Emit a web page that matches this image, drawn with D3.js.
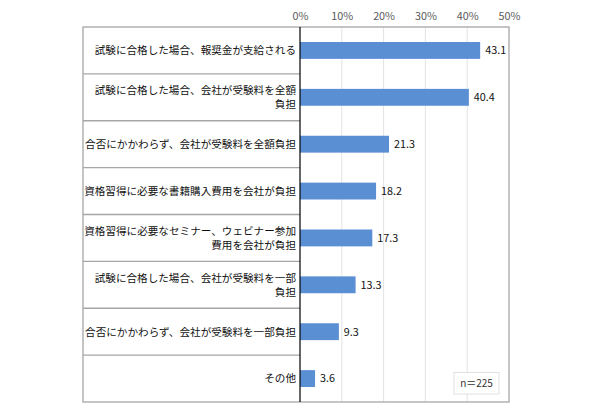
<!DOCTYPE html>
<html><head><meta charset="utf-8">
<script src="https://cdn.jsdelivr.net/npm/d3@7"></script>
<style>body{margin:0;background:#fff}</style>
</head><body>
<svg id="c" width="590" height="417"></svg>
<script>
const categories = [
  ["試験に合格した場合、報奨金が支給される"],
  ["試験に合格した場合、会社が受験料を全額", "負担"],
  ["合否にかかわらず、会社が受験料を全額負担"],
  ["資格習得に必要な書籍購入費用を会社が負担"],
  ["資格習得に必要なセミナー、ウェビナー参加", "費用を会社が負担"],
  ["試験に合格した場合、会社が受験料を一部", "負担"],
  ["合否にかかわらず、会社が受験料を一部負担"],
  ["その他"]
];
const values = [43.1, 40.4, 21.3, 18.2, 17.3, 13.3, 9.3, 3.6];
const tickValues = [0, 10, 20, 30, 40, 50];
const note = "n＝225";

const svg = d3.select("#c");
const font = "'Noto Sans CJK JP', 'Noto Sans', sans-serif";
const L = 83, T = 27, R = 509, B = 402, X0 = 300;
const x = d3.scaleLinear().domain([0, 50]).range([X0, R]);
const y = d3.scaleBand().domain(d3.range(categories.length)).range([T, B]).paddingInner(0.64).paddingOuter(0.32);
const rowH = (B - T) / categories.length;

// gridlines
svg.append("g").selectAll("line").data(tickValues.slice(1, -1)).join("line")
  .attr("x1", d => x(d)).attr("x2", d => x(d)).attr("y1", T).attr("y2", B)
  .attr("stroke", "#e3e3e3").attr("stroke-width", 1);

// row separators in label area
svg.append("g").selectAll("line").data(d3.range(1, categories.length)).join("line")
  .attr("x1", L).attr("x2", X0).attr("y1", d => T + d * rowH).attr("y2", d => T + d * rowH)
  .attr("stroke", "#a6a6a6").attr("stroke-width", 1.3);

// outer border
svg.append("rect").attr("x", L).attr("y", T).attr("width", R - L).attr("height", B - T)
  .attr("fill", "none").attr("stroke", "#a6a6a6").attr("stroke-width", 1.3);

// bars
svg.append("g").selectAll("rect").data(values).join("rect")
  .attr("x", x(0)).attr("y", (d, i) => y(i)).attr("width", d => x(d) - x(0)).attr("height", y.bandwidth())
  .attr("fill", "#5b8fd4");

// zero axis line
svg.append("line").attr("x1", X0).attr("x2", X0).attr("y1", T).attr("y2", B)
  .attr("stroke", "#000").attr("stroke-width", 1.2);

// top axis tick labels
const axis = d3.axisTop(x).tickValues(tickValues).tickFormat(d => d + "%").tickSize(0).tickPadding(0);
const ag = svg.append("g").attr("transform", "translate(0,20)").call(axis);
ag.select(".domain").remove();
ag.selectAll("text").attr("font-family", font).attr("font-size", 10.8).attr("fill", "#595959");

// value labels
svg.append("g").selectAll("text").data(values).join("text")
  .attr("x", d => x(d) + 5).attr("y", (d, i) => y(i) + y.bandwidth() / 2)
  .attr("dy", "0.36em").attr("font-family", font).attr("font-size", 10.8).attr("fill", "#111")
  .text(d => d.toFixed(1));

// category labels
const lg = svg.append("g");
categories.forEach((lines, i) => {
  const cy = T + (i + 0.5) * rowH;
  const n = lines.length, lh = 14;
  lines.forEach((s, j) => {
    lg.append("text").attr("x", X0 - 4).attr("y", cy + (j - (n - 1) / 2) * lh)
      .attr("dy", "0.36em").attr("text-anchor", "end")
      .attr("font-family", font).attr("font-size", 10.6).attr("fill", "#111").text(s);
  });
});

// note box
svg.append("rect").attr("x", 454).attr("y", 372.5).attr("width", 45).attr("height", 21.5)
  .attr("fill", "#fff").attr("stroke", "#e0e0e0").attr("stroke-width", 1);
svg.append("text").attr("x", 476.5).attr("y", 383.5).attr("dy", "0.36em").attr("text-anchor", "middle")
  .attr("font-family", font).attr("font-size", 10).attr("fill", "#333").text(note);
</script>
</body></html>
